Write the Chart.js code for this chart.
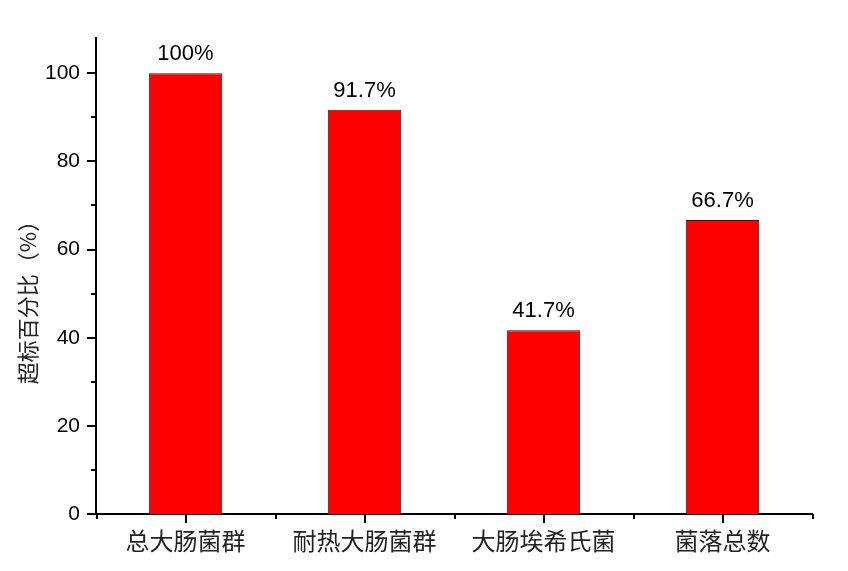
<!DOCTYPE html>
<html>
<head>
<meta charset="utf-8">
<script src="https://cdn.jsdelivr.net/npm/chart.js@4"></script>
<style>
html,body{margin:0;padding:0;background:#fff;}
#wrap{width:848px;height:571px;position:relative;}
</style>
</head>
<body>
<div id="wrap"><canvas id="c"></canvas></div>
<script>
const categories = ['总大肠菌群', '耐热大肠菌群', '大肠埃希氏菌', '菌落总数'];
const values = [100, 91.7, 41.7, 66.7];
const valueLabels = ['100%', '91.7%', '41.7%', '66.7%'];
const yMajorTicks = [0, 20, 40, 60, 80, 100];
const yMinorTicks = [10, 30, 50, 70, 90];
const yTitle = '超标百分比（%）';

const axisPlugin = {
  id: 'axisDecor',
  afterDraw(chart) {
    const ctx = chart.ctx;
    const x = chart.scales.x, y = chart.scales.y;
    const area = chart.chartArea;
    ctx.save();
    ctx.strokeStyle = '#000';
    ctx.lineWidth = 2;
    // y ticks
    yMajorTicks.forEach(v => {
      const py = Math.round(y.getPixelForValue(v));
      ctx.beginPath(); ctx.moveTo(area.left - 9, py); ctx.lineTo(area.left, py); ctx.stroke();
    });
    yMinorTicks.forEach(v => {
      const py = Math.round(y.getPixelForValue(v));
      ctx.beginPath(); ctx.moveTo(area.left - 5, py); ctx.lineTo(area.left, py); ctx.stroke();
    });
    // x ticks
    const half = (x.right - x.left) / categories.length / 2;
    categories.forEach((c, i) => {
      const px = Math.round(x.getPixelForValue(i));
      ctx.beginPath(); ctx.moveTo(px, area.bottom); ctx.lineTo(px, area.bottom + 9); ctx.stroke();
      [px - half, px + half].forEach(bx => {
        ctx.beginPath(); ctx.moveTo(Math.round(bx), area.bottom); ctx.lineTo(Math.round(bx), area.bottom + 5); ctx.stroke();
      });
    });
    // y title
    ctx.fillStyle = '#222';
    ctx.font = '22px "Noto Sans CJK SC"';
    ctx.textAlign = 'center';
    ctx.textBaseline = 'middle';
    ctx.translate(28, 297);
    ctx.rotate(-Math.PI / 2);
    ctx.fillText(yTitle, 0, 0);
    ctx.restore();
  },
  afterDatasetsDraw(chart) {
    const ctx = chart.ctx;
    const meta = chart.getDatasetMeta(0);
    ctx.save();
    ctx.fillStyle = '#000';
    ctx.font = '22px "Liberation Sans", Arial, sans-serif';
    ctx.textAlign = 'center';
    ctx.textBaseline = 'alphabetic';
    meta.data.forEach((bar, i) => {
      ctx.fillText(valueLabels[i], bar.x, bar.y - 13);
    });
    ctx.restore();
  }
};

new Chart(document.getElementById('c'), {
  type: 'bar',
  data: {
    labels: categories,
    datasets: [{
      data: values,
      backgroundColor: '#ff0000',
      borderColor: '#222',
      borderWidth: 1,
      barPercentage: 0.41,
      categoryPercentage: 1
    }]
  },
  options: {
    responsive: true,
    maintainAspectRatio: false,
    animation: false,
    layout: { padding: { top: 38, right: 36, left: 0, bottom: 0 } },
    plugins: { legend: { display: false }, tooltip: { enabled: false } },
    scales: {
      x: {
        grid: { display: false, drawTicks: false },
        border: { display: true, color: '#000', width: 2 },
        ticks: {
          color: '#222',
          padding: 12,
          font: { family: '"Noto Sans CJK SC"', size: 24 },
          maxRotation: 0
        },
        afterFit(s) { s.height = 57; }
      },
      y: {
        min: 0,
        max: 108,
        grid: { display: false, drawTicks: false },
        border: { display: true, color: '#000', width: 2 },
        ticks: {
          color: '#000',
          padding: 16,
          font: { family: '"Liberation Sans", Arial, sans-serif', size: 21 }
        },
        afterBuildTicks(s) { s.ticks = yMajorTicks.map(v => ({ value: v })); },
        afterFit(s) { s.width = 96; }
      }
    }
  },
  plugins: [axisPlugin]
});
</script>
</body>
</html>
